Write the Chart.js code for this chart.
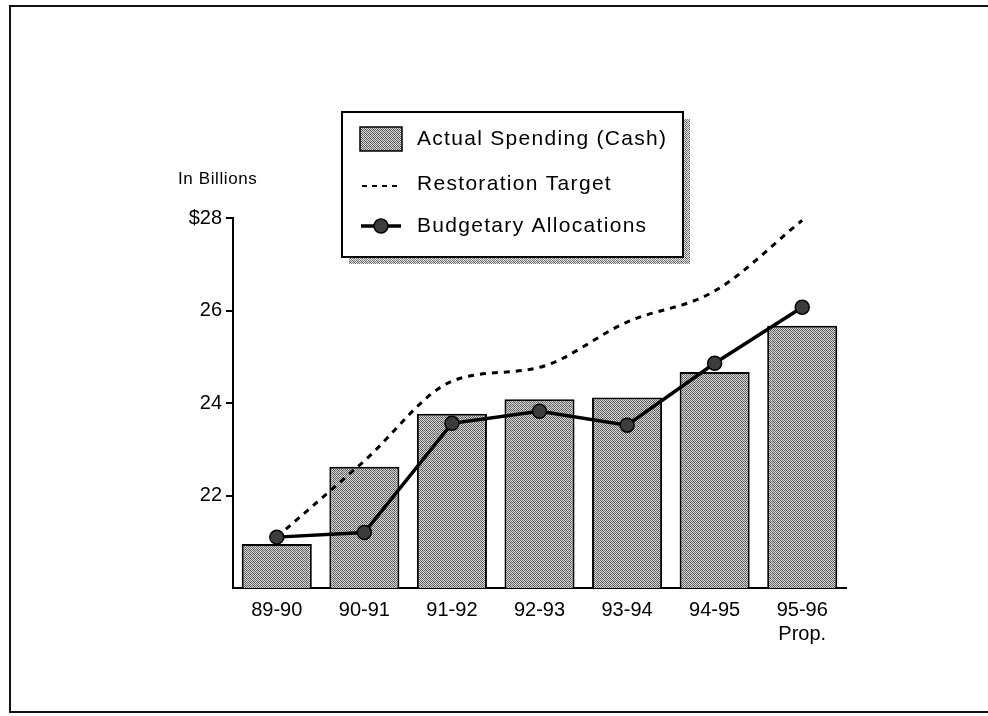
<!DOCTYPE html>
<html><head><meta charset="utf-8">
<script src="https://cdn.jsdelivr.net/npm/chart.js@4"></script>
<style>
html,body{margin:0;padding:0;background:#fff;}
#wrap{position:relative;width:988px;height:716px;overflow:hidden;background:#fff;}
#frame{position:absolute;left:9px;top:5px;width:995px;height:708px;border:2px solid #111;box-sizing:border-box;pointer-events:none;}
canvas{position:absolute;left:0;top:0;}
</style></head><body>
<div id="wrap"><canvas id="c" width="988" height="716"></canvas><div id="frame"></div></div>
<script>
// ---- data ----
const categories = ['89-90', '90-91', '91-92', '92-93', '93-94', '94-95', ['95-96', 'Prop.']];
const actualSpending = [20.95, 22.62, 23.77, 24.08, 24.12, 24.67, 25.67];
const restorationTarget = [21.1, 22.75, 24.47, 24.77, 25.75, 26.42, 27.95];
const budgetaryAllocations = [21.1, 21.2, 23.56, 23.82, 23.52, 24.86, 26.07];
const yTickValues = [22, 24, 26, 28];
const yAxisLabel = 'In Billions';
const seriesLabels = ['Actual Spending (Cash)', 'Restoration Target', 'Budgetary Allocations'];

const FONT = '"Liberation Sans", Arial, Helvetica, sans-serif';

function makePattern(dark, light) {
  const p = document.createElement('canvas');
  p.width = 4; p.height = 4;
  const g = p.getContext('2d');
  g.fillStyle = light; g.fillRect(0, 0, 4, 4);
  g.fillStyle = dark;
  [[0,0],[2,0],[1,1],[3,1],[0,2],[2,2],[1,3],[3,3]].forEach(([x,y]) => g.fillRect(x, y, 1, 1));
  g.fillStyle = '#4a4a4a';
  g.fillRect(1, 1, 1, 1);
  g.fillRect(2, 2, 1, 1);
  return document.getElementById('c').getContext('2d').createPattern(p, 'repeat');
}
const barPattern = makePattern('#6e6e6e', '#d4d4d4');
const shadowPattern = makePattern('#808080', '#e2e2e2');

const legendPlugin = {
  id: 'customLegend',
  afterDraw(chart) {
    const ctx = chart.ctx;
    const ds = chart.data.datasets;
    ctx.save();
    // y axis caption
    ctx.fillStyle = '#000';
    ctx.font = '17px ' + FONT;
    ctx.textBaseline = 'middle';
    ctx.textAlign = 'left';
    try { ctx.letterSpacing = '0.6px'; } catch (e) {}
    ctx.fillText(yAxisLabel, 178, 179);

    // legend box with shadow
    const bx = 342, by = 112, bw = 341, bh = 145;
    ctx.fillStyle = shadowPattern;
    ctx.fillRect(bx + 7, by + 7, bw, bh);
    ctx.fillStyle = '#fff';
    ctx.fillRect(bx, by, bw, bh);
    ctx.lineWidth = 2;
    ctx.strokeStyle = '#000';
    ctx.strokeRect(bx, by, bw, bh);

    const rows = [139, 184, 226];
    // row 1: bar swatch
    ctx.fillStyle = barPattern;
    ctx.fillRect(360, rows[0] - 12, 42, 24);
    ctx.lineWidth = 1.5;
    ctx.strokeRect(360, rows[0] - 12, 42, 24);
    // row 2: dashed
    ctx.beginPath();
    ctx.setLineDash([5, 5]);
    ctx.lineWidth = 2;
    ctx.moveTo(362, rows[1] + 2); ctx.lineTo(400, rows[1] + 2);
    ctx.stroke();
    ctx.setLineDash([]);
    // row 3: line with dot
    ctx.beginPath();
    ctx.lineWidth = 3.5;
    ctx.moveTo(361, rows[2]); ctx.lineTo(401, rows[2]);
    ctx.stroke();
    ctx.beginPath();
    ctx.arc(381, rows[2], 7, 0, Math.PI * 2);
    ctx.fillStyle = '#3c3c3c'; ctx.fill();
    ctx.lineWidth = 1.5; ctx.stroke();

    ctx.fillStyle = '#000';
    ctx.font = '21px ' + FONT;
    try { ctx.letterSpacing = '1.3px'; } catch (e) {}
    ctx.textBaseline = 'middle';
    [0, 1, 2].forEach((i, k) => ctx.fillText(ds[i].label, 417, rows[k]));
    ctx.restore();
  }
};

new Chart(document.getElementById('c'), {
  data: {
    labels: categories,
    datasets: [
      {
        type: 'bar',
        label: seriesLabels[0],
        data: actualSpending,
        backgroundColor: barPattern,
        borderColor: '#000',
        borderWidth: 2,
        borderSkipped: false,
        categoryPercentage: 1.0,
        barPercentage: 0.8,
        order: 3
      },
      {
        type: 'line',
        label: seriesLabels[1],
        data: restorationTarget,
        borderColor: '#000',
        borderWidth: 3,
        borderDash: [6, 6],
        cubicInterpolationMode: 'monotone',
        pointRadius: 0,
        fill: false,
        order: 2
      },
      {
        type: 'line',
        label: seriesLabels[2],
        data: budgetaryAllocations,
        borderColor: '#000',
        borderWidth: 3.5,
        tension: 0,
        pointRadius: 7,
        pointBackgroundColor: '#3c3c3c',
        pointBorderColor: '#000',
        pointBorderWidth: 1.5,
        fill: false,
        order: 1
      }
    ]
  },
  options: {
    responsive: false,
    animation: false,
    layout: { padding: { left: 113, right: 142, top: 218, bottom: 58 } },
    plugins: { legend: { display: false }, tooltip: { enabled: false }, title: { display: false } },
    scales: {
      x: {
        offset: true,
        grid: { display: false, drawTicks: false, tickLength: 0 },
        border: { display: true, color: '#000', width: 2 },
        ticks: { color: '#000', font: { family: FONT, size: 20 }, padding: 10, maxRotation: 0, autoSkip: false },
        afterFit(scale) { scale.height = 70; }
      },
      y: {
        min: 20,
        max: 28,
        grid: { display: true, drawOnChartArea: false, drawTicks: true, tickLength: 7, color: '#000', lineWidth: 2 },
        border: { display: true, color: '#000', width: 2 },
        ticks: {
          color: '#000',
          font: { family: FONT, size: 20 },
          padding: 4,
          callback: (v) => (v === 28 ? '$' + v : String(v))
        },
        afterBuildTicks(scale) { scale.ticks = yTickValues.map(v => ({ value: v })); },
        afterFit(scale) { scale.width = 120; }
      }
    }
  },
  plugins: [legendPlugin]
});
</script>
</body></html>
